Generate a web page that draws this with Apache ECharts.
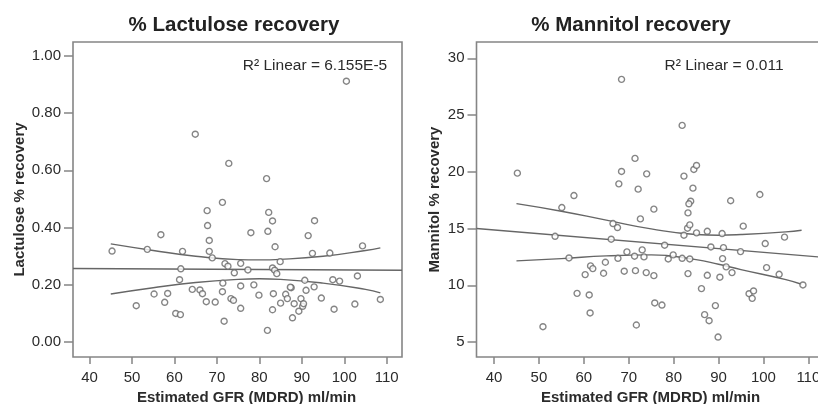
<!DOCTYPE html>
<html>
<head>
<meta charset="utf-8">
<script src="https://cdn.jsdelivr.net/npm/echarts@6/dist/echarts.min.js"></script>
<style>
  html, body { margin: 0; padding: 0; background: #fff; }
  #chart { width: 818px; height: 404px; }
</style>
</head>
<body>
<div id="chart"></div>
<script>
// estimated GFR (ml/min) and % recovery
var lacGfr = [45.3, 53.6, 56.8, 51.0, 55.2, 58.4, 57.7, 60.3, 61.4, 61.2, 61.5, 61.9, 64.2, 66.0, 66.6, 67.5,
  69.6, 67.7, 67.8, 68.2, 68.2, 68.9, 71.3, 71.4, 71.3, 71.9, 72.6, 71.7, 73.3, 73.9, 74.1, 75.6, 75.6, 75.6,
  77.3, 78.0, 78.7, 79.9, 82.0, 82.2, 83.1, 83.7, 83.1, 83.6, 84.1, 84.9, 83.3, 83.1, 81.9, 85.0, 86.2, 86.6,
  87.5, 87.3, 87.8, 88.2, 89.3, 89.8, 90.2, 90.4, 90.7, 91.0, 91.5, 92.5, 92.9, 93.0, 94.6, 96.6, 97.6, 97.3,
  98.9, 102.5, 103.1, 104.3, 108.5, 100.5, 64.9, 72.8, 81.7];
var lacRecovery = [0.318, 0.324, 0.375, 0.127, 0.168, 0.170, 0.139, 0.100, 0.096, 0.218, 0.256, 0.317, 0.184, 0.182, 0.169, 0.141,
  0.140, 0.459, 0.407, 0.355, 0.317, 0.294, 0.488, 0.206, 0.176, 0.274, 0.265, 0.073, 0.152, 0.146, 0.242, 0.275, 0.196, 0.118,
  0.252, 0.382, 0.200, 0.164, 0.387, 0.453, 0.423, 0.333, 0.259, 0.251, 0.239, 0.281, 0.169, 0.113, 0.041, 0.136, 0.167, 0.152,
  0.190, 0.192, 0.085, 0.134, 0.108, 0.152, 0.125, 0.134, 0.216, 0.181, 0.372, 0.310, 0.193, 0.424, 0.154, 0.311, 0.115, 0.218,
  0.213, 0.133, 0.231, 0.336, 0.149, 0.911, 0.726, 0.624, 0.571];

var manGfr = [45.2, 55.1, 57.8, 68.4, 68.4, 67.8, 71.4, 72.1, 74.0, 81.9, 82.3, 84.5, 85.1, 84.3, 99.2, 92.7,
  83.8, 83.4, 83.2, 75.6, 53.6, 56.7, 66.5, 67.5, 66.1, 72.6, 69.6, 67.6, 64.8, 61.5, 62.0, 60.3, 64.4, 69.0,
  71.5, 71.3, 73.0, 73.4, 73.9, 75.6, 58.5, 61.2, 61.4, 50.9, 71.7, 75.8, 77.4, 78.0, 78.8, 79.9, 81.9, 82.3,
  83.1, 83.6, 83.6, 83.2, 85.1, 87.5, 88.3, 86.2, 87.5, 86.9, 87.9, 89.3, 89.9, 90.8, 91.1, 90.9, 91.7, 90.3,
  93.0, 94.9, 95.5, 100.4, 100.7, 103.5, 104.7, 108.8, 96.8, 97.8, 97.5];
var manRecovery = [19.88, 16.85, 17.91, 28.15, 20.03, 18.94, 21.18, 18.47, 19.82, 24.09, 19.62, 20.21, 20.56, 18.56, 18.0, 17.45,
  17.41, 17.18, 16.38, 16.71, 14.32, 12.41, 15.44, 15.09, 14.06, 15.85, 12.94, 12.38, 12.03, 11.71, 11.47, 10.94, 11.06, 11.24,
  11.29, 12.56, 13.12, 12.5, 11.12, 10.85, 9.29, 9.15, 7.56, 6.35, 6.5, 8.44, 8.26, 13.53, 12.32, 12.68, 12.38, 14.41,
  15.03, 15.32, 12.32, 11.03, 14.62, 14.76, 13.38, 9.71, 10.88, 7.41, 6.88, 8.21, 5.44, 14.56, 13.32, 12.35, 11.62, 10.71,
  11.12, 12.97, 15.21, 13.68, 11.56, 10.97, 14.24, 10.03, 9.26, 9.5, 8.85];

// fit line and 95% CI curves
var lacFitX = [36.1, 113.6];
var lacFitY = [0.257, 0.251];
var lacCiX = [45, 55, 65, 75, 80, 85, 95, 105, 108.5];
var lacCiUpper = [0.343, 0.320, 0.300, 0.288, 0.287, 0.289, 0.300, 0.320, 0.329];
var lacCiLower = [0.168, 0.190, 0.208, 0.219, 0.221, 0.219, 0.206, 0.184, 0.172];

var manFitX = [36.1, 113.6];
var manFitY = [15.0, 12.46];
var manCiX = [45, 55, 65, 75, 85, 90, 95, 105, 108.5];
var manCiUpper = [17.2, 16.53, 15.74, 14.97, 14.47, 14.41, 14.47, 14.71, 14.85];
var manCiLower = [12.15, 12.35, 12.59, 12.68, 12.26, 11.85, 11.38, 10.5, 10.09];

var gfrTicks = [40, 50, 60, 70, 80, 90, 100, 110];
var lacTicks = [0, 0.2, 0.4, 0.6, 0.8, 1.0];
var manTicks = [5, 10, 15, 20, 25, 30];

function pairs(xs, ys) {
  return xs.map(function (x, i) { return [x, ys[i]]; });
}

var ink = '#2b2b2b';
var frame = '#858585';
var mark = '#666';
var font = 'Liberation Sans, Arial, sans-serif';

function xAxisFor(gi, pad) {
  return {
    type: 'value', gridIndex: gi, min: 36.1, max: 113.6,
    name: 'Estimated GFR (MDRD) ml/min', nameLocation: 'middle', nameGap: 25,
    nameTextStyle: { color: ink, fontSize: 15, fontWeight: 'bold', fontFamily: font, padding: pad },
    axisLine: { show: false, onZero: false },
    axisTick: { show: true, length: 7, customValues: gfrTicks, lineStyle: { color: frame, width: 1.5 } },
    axisLabel: { customValues: gfrTicks, color: ink, fontSize: 15, fontFamily: font, margin: 13 },
    splitLine: { show: false }
  };
}

function yAxisFor(gi, min, max, ticks, name, gap, fmt) {
  return {
    type: 'value', gridIndex: gi, min: min, max: max,
    name: name, nameLocation: 'middle', nameGap: gap, nameRotate: 90,
    nameTextStyle: { color: ink, fontSize: 15, fontWeight: 'bold', fontFamily: font },
    axisLine: { show: false, onZero: false },
    axisTick: { show: true, length: 9, customValues: ticks, lineStyle: { color: frame, width: 1.5 } },
    axisLabel: { customValues: ticks, color: ink, fontSize: 15, fontFamily: font, margin: 12, formatter: fmt },
    splitLine: { show: false }
  };
}

function dots(xi, data) {
  return {
    type: 'scatter', xAxisIndex: xi, yAxisIndex: xi, data: data,
    symbol: 'circle', symbolSize: 6,
    itemStyle: { color: '#fff', borderColor: mark, borderWidth: 1.4 },
    silent: true, z: 3
  };
}

function curve(xi, data) {
  return {
    type: 'line', xAxisIndex: xi, yAxisIndex: xi, data: data, smooth: true,
    showSymbol: false, lineStyle: { color: mark, width: 1.4 }, silent: true, z: 2
  };
}

var chart = echarts.init(document.getElementById('chart'));

chart.setOption({
  backgroundColor: '#fff',
  animation: false,
  title: [
    { text: '% Lactulose recovery', left: 229, top: 10, textAlign: 'center',
      textStyle: { color: '#222', fontSize: 20.5, fontWeight: 'bold', fontFamily: font } },
    { text: '% Mannitol recovery', left: 626, top: 10, textAlign: 'center',
      textStyle: { color: '#222', fontSize: 20.5, fontWeight: 'bold', fontFamily: font } },
    { text: 'R² Linear = 6.155E-5', left: 310, top: 53, textAlign: 'center',
      textStyle: { color: ink, fontSize: 15.5, fontWeight: 'normal', fontFamily: font } },
    { text: 'R² Linear = 0.011', left: 719, top: 53, textAlign: 'center',
      textStyle: { color: ink, fontSize: 15.5, fontWeight: 'normal', fontFamily: font } }
  ],
  grid: [
    { left: 73, top: 42, width: 329, height: 315, show: true, borderColor: frame, borderWidth: 1.6,
      containLabel: false, outerBoundsMode: 'none' },
    { left: 476.5, top: 42, width: 348, height: 315, show: true, borderColor: frame, borderWidth: 1.6,
      containLabel: false, outerBoundsMode: 'none' }
  ],
  xAxis: [xAxisFor(0, [0, 0, 0, 18]), xAxisFor(1, 0)],
  yAxis: [
    yAxisFor(0, -0.052, 1.048, lacTicks, 'Lactulose % recovery', 46, function (v) { return v.toFixed(2); }),
    yAxisFor(1, 3.68, 31.44, manTicks, 'Mannitol % recovery', 34, function (v) { return v; })
  ],
  series: [
    curve(0, pairs(lacFitX, lacFitY)),
    curve(0, pairs(lacCiX, lacCiUpper)),
    curve(0, pairs(lacCiX, lacCiLower)),
    dots(0, pairs(lacGfr, lacRecovery)),
    curve(1, pairs(manFitX, manFitY)),
    curve(1, pairs(manCiX, manCiUpper)),
    curve(1, pairs(manCiX, manCiLower)),
    dots(1, pairs(manGfr, manRecovery))
  ]
});
</script>
</body>
</html>
